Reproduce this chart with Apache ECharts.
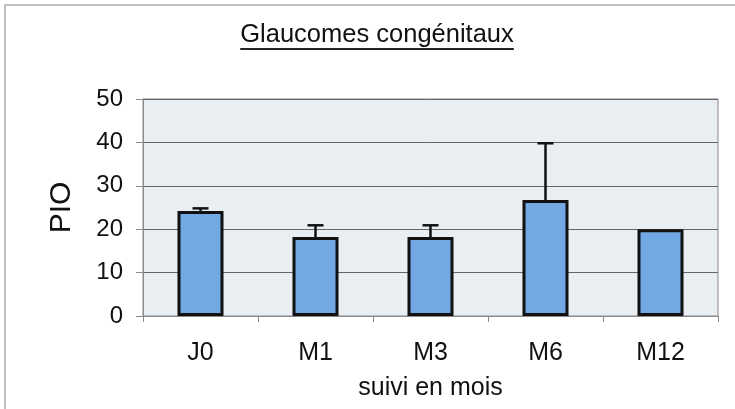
<!DOCTYPE html>
<html>
<head>
<meta charset="utf-8">
<script src="https://cdn.jsdelivr.net/npm/echarts@6/dist/echarts.min.js"></script>
<style>
html,body{margin:0;padding:0;background:#fff;}
#chart{width:735px;height:409px;}
</style>
</head>
<body>
<div id="chart"></div>
<script>
var titleText = 'Glaucomes congénitaux';
var categories = ['J0', 'M1', 'M3', 'M6', 'M12'];
var means = [24.2, 18.2, 18.2, 26.7, 20.0];
var errors = [0.6, 2.7, 2.7, 13.1, 0];
var yTicks = [0, 10, 20, 30, 40, 50];

var FONT = '"Liberation Sans", Arial, sans-serif';
var titleSize = 25.5;
var cv = document.createElement('canvas').getContext('2d');
cv.font = titleSize + 'px ' + FONT;
var titleW = cv.measureText(titleText).width;
var titleCx = 377;

var chart = echarts.init(document.getElementById('chart'), null, {renderer: 'canvas'});
var errData = categories.map(function (c, i) { return [i, means[i], errors[i]]; });

chart.setOption({
  backgroundColor: '#fff',
  animation: false,
  title: {
    text: titleText,
    left: titleCx - titleW / 2,
    top: 22,
    padding: 0,
    textStyle: {
      fontFamily: FONT,
      fontSize: titleSize,
      fontWeight: 'normal',
      color: '#111'
    }
  },
  graphic: [
    {type: 'rect', shape: {x: 5, y: 5, width: 800, height: 500}, style: {fill: null, stroke: '#aaa', lineWidth: 1.5}, silent: true, z: -10},
    {type: 'line', shape: {x1: titleCx - titleW / 2, y1: 49, x2: titleCx + titleW / 2, y2: 49}, style: {stroke: '#222', lineWidth: 2}, silent: true}
  ],
  grid: {
    left: 143, right: 17, top: 99, bottom: 93,
    show: true,
    backgroundColor: '#e9eef3',
    borderColor: '#8a8a8a',
    borderWidth: 1
  },
  xAxis: {
    type: 'category',
    data: categories,
    name: 'suivi en mois',
    nameLocation: 'middle',
    nameGap: 60,
    nameTextStyle: {fontFamily: FONT, fontSize: 25, color: '#111'},
    axisLine: {show: true, lineStyle: {color: '#8a8a8a', width: 1}},
    axisTick: {show: true, alignWithLabel: false, length: 6, lineStyle: {color: '#8a8a8a'}},
    axisLabel: {margin: 25, fontFamily: FONT, fontSize: 25, color: '#111'},
    splitLine: {show: false}
  },
  yAxis: {
    type: 'value',
    min: yTicks[0],
    max: yTicks[yTicks.length - 1],
    interval: 10,
    name: 'PIO',
    nameLocation: 'middle',
    nameGap: 66,
    nameRotate: 90,
    nameTextStyle: {fontFamily: FONT, fontSize: 30, color: '#111'},
    axisLine: {show: true, lineStyle: {color: '#8a8a8a', width: 1}},
    axisTick: {show: true, length: 7, lineStyle: {color: '#8a8a8a'}},
    axisLabel: {margin: 20, fontFamily: FONT, fontSize: 24, color: '#111'},
    splitLine: {show: true, lineStyle: {color: '#666', width: 1}}
  },
  series: [
    {
      type: 'bar',
      data: means,
      barWidth: '40%',
      itemStyle: {color: '#72a9e4', borderColor: '#111', borderWidth: 3},
      z: 2
    },
    {
      type: 'custom',
      data: errData,
      z: 3,
      renderItem: function (params, api) {
        var idx = api.value(0), m = api.value(1), e = api.value(2);
        if (!(e > 0)) return null;
        var p0 = api.coord([idx, m]);
        var p1 = api.coord([idx, m + e]);
        var hw = 8;
        var st = {stroke: '#111', lineWidth: 2.5};
        return {
          type: 'group',
          children: [
            {type: 'line', shape: {x1: p0[0], y1: p0[1], x2: p1[0], y2: p1[1]}, style: st},
            {type: 'line', shape: {x1: p1[0] - hw, y1: p1[1], x2: p1[0] + hw, y2: p1[1]}, style: st}
          ]
        };
      }
    }
  ]
});
</script>
</body>
</html>
